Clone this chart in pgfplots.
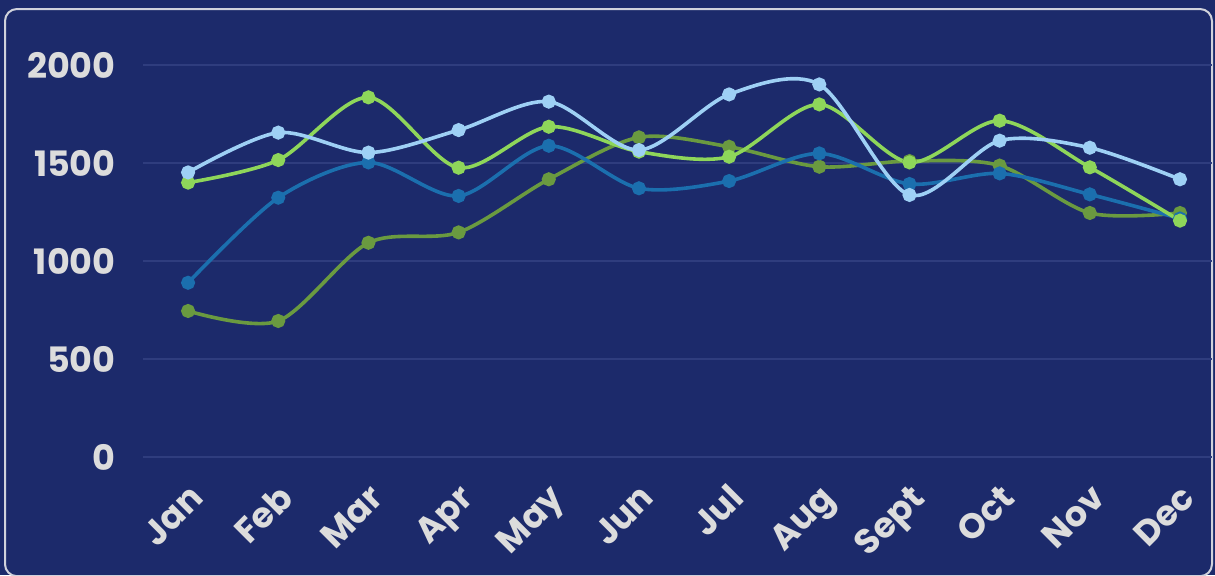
\documentclass[border=0pt]{standalone}
\usepackage{fontspec}
\setmainfont{Poppins}
\usepackage{pgfplots}
\pgfplotsset{compat=1.18}
\definecolor{bg}{HTML}{1C2A6B}
\definecolor{gridc}{HTML}{2F3D7E}
\definecolor{lblue}{HTML}{9ED0F5}
\definecolor{lgreen}{HTML}{8ED65A}
\definecolor{dblue}{HTML}{1B6FAE}
\definecolor{dgreen}{HTML}{6A9A40}
\definecolor{txt}{HTML}{DCDCDC}
\definecolor{framec}{HTML}{D0D2DC}
\begin{document}
\begin{tikzpicture}
\useasboundingbox (0,0) rectangle (607.5pt,287.5pt);
\fill[bg] (0,0) rectangle (607.5pt,287.5pt);
\begin{scope}
\clip (0,0) rectangle (607.5pt,287.5pt);
\draw[framec, line width=1pt, rounded corners=6pt] (2.5pt,-0.6pt) rectangle (606pt,283pt);
\end{scope}
\begin{axis}[
  at={(71.5pt,59pt)}, anchor=south west, scale only axis,
  width=534.5pt, height=196pt,
  xmin=-0.5, xmax=11.355, ymin=0, ymax=2000,
  axis line style={draw=none}, clip=false,
  major tick length=0pt,
  ytick={0,500,1000,1500,2000},
  yticklabels={0,500,1000,1500,2000},
  ymajorgrids, major grid style={gridc, line width=0.6pt},
  xtick={0,...,11},
  xticklabels={Jan,Feb,Mar,Apr,May,Jun,Jul,Aug,Sept,Oct,Nov,Dec},
  ticklabel style={font=\fontsize{17.5}{20}\selectfont\bfseries, text=txt},
  yticklabel style={anchor=east, inner sep=0pt, xshift=-13.5pt},
  xticklabel style={inner sep=0pt, anchor=base east, xshift=8.5pt, yshift=-21.5pt, rotate=45},
  every axis plot/.append style={smooth, line width=1.8pt, mark=*, mark size=2.6pt},
]
\addplot[dgreen, mark options={fill=dgreen, draw=dgreen}] coordinates {
(0,745) (1,694) (2,1093) (3,1146) (4,1417) (5,1631) (6,1583) (7,1481) (8,1510) (9,1487) (10,1245) (11,1245)};
\addplot[dblue, mark options={fill=dblue, draw=dblue}] coordinates {
(0,889) (1,1323) (2,1503) (3,1332) (4,1588) (5,1371) (6,1408) (7,1549) (8,1393) (9,1447) (10,1340) (11,1217)};
\addplot[lgreen, mark options={fill=lgreen, draw=lgreen}] coordinates {
(0,1400) (1,1515) (2,1835) (3,1476) (4,1685) (5,1558) (6,1532) (7,1799) (8,1503) (9,1716) (10,1478) (11,1206)};
\addplot[lblue, mark options={fill=lblue, draw=lblue}] coordinates {
(0,1452) (1,1655) (2,1553) (3,1668) (4,1813) (5,1566) (6,1850) (7,1901) (8,1337) (9,1614) (10,1578) (11,1417)};
\end{axis}
\end{tikzpicture}
\end{document}
